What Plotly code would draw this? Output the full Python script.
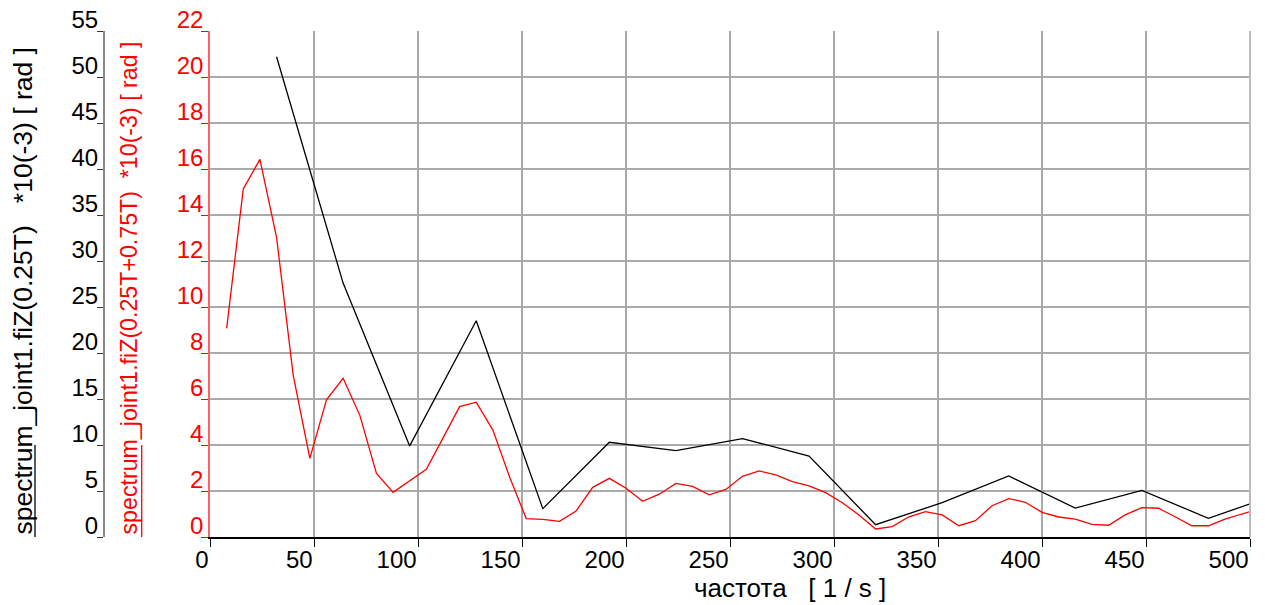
import plotly.graph_objects as go

# ---- data ----
black_x = [32, 64, 96, 128, 160, 192, 224, 256, 288, 320, 352, 384, 416, 448, 480, 500]
black_y = [52.2, 27.6, 9.9, 23.5, 3.08, 10.3, 9.38, 10.7, 8.8, 1.34, 3.73, 6.63, 3.15, 5.07, 2.03, 3.6]

red_x = list(range(8, 505, 8))
red_y = [9.07, 15.13, 16.42, 13.03, 7.04, 3.42, 5.96, 6.9, 5.3, 2.77,
         1.94, 2.45, 2.94, 4.3, 5.67, 5.86, 4.65, 2.62, 0.8, 0.77,
         0.68, 1.13, 2.16, 2.55, 2.12, 1.55, 1.86, 2.33, 2.2, 1.83,
         2.07, 2.64, 2.87, 2.7, 2.41, 2.22, 1.93, 1.49, 0.96, 0.35,
         0.45, 0.88, 1.1, 0.96, 0.49, 0.71, 1.36, 1.67, 1.51, 1.07,
         0.87, 0.78, 0.55, 0.51, 0.96, 1.28, 1.25, 0.88, 0.49, 0.49,
         0.78, 1.0, 1.2]

x_ticks = [0, 50, 100, 150, 200, 250, 300, 350, 400, 450, 500]
red_ticks = [0, 2, 4, 6, 8, 10, 12, 14, 16, 18, 20, 22]
black_ticks = [0, 5, 10, 15, 20, 25, 30, 35, 40, 45, 50, 55]

black_title = "spectrum_joint1.fiZ(0.25T)   *10(-3) [ rad ]"
red_title = "spectrum_joint1.fiZ(0.25T+0.75T)  *10(-3) [ rad ]"
x_title = "частота   [ 1 / s ]"

FONT = "Liberation Sans, Arial, sans-serif"
TICK = 24
OFF = 8  # page body margin: screen pixel = figure pixel + OFF
W, H = 1257, 597
# targets in screen pixels
S_BLACK_AXIS, S_RED_AXIS, S_RIGHT, S_TOP, S_BOTTOM = 104, 210, 1250, 31, 537
L = S_BLACK_AXIS - OFF
R = W - (S_RIGHT - OFF)
T = S_TOP - OFF
B = H - (S_BOTTOM - OFF)
PW = W - L - R
PH = H - T - B


def px(sx):
    return (sx - OFF - L) / PW


def py(sy):
    return (H - B - (sy - OFF)) / PH


fig = go.Figure()
fig.add_trace(go.Scatter(x=red_x, y=red_y, mode="lines",
                         line=dict(color="#ff0000", width=1.3),
                         xaxis="x", yaxis="y", showlegend=False))
fig.add_trace(go.Scatter(x=black_x, y=black_y, mode="lines",
                         line=dict(color="#000000", width=1.3),
                         xaxis="x", yaxis="y2", showlegend=False))

fig.update_layout(
    width=W, height=H,
    margin=dict(l=L, r=R, t=T, b=B, pad=0, autoexpand=False),
    paper_bgcolor="white", plot_bgcolor="white",
    font=dict(family=FONT, size=TICK, color="black"),
    showlegend=False,
    xaxis=dict(
        domain=[px(S_RED_AXIS), 1.0], range=[0, 500], automargin=False,
        tickvals=x_ticks, ticktext=[str(v) for v in x_ticks],
        ticks="outside", ticklen=8, tickwidth=1.2, tickcolor="black",
        ticklabelposition="outside left", ticklabeloverflow="allow",
        showline=True, linecolor="black", linewidth=1.5,
        showgrid=True, gridcolor="#aaaaaa", gridwidth=1.5,
        zeroline=False, mirror=False,
        tickfont=dict(size=TICK, color="black"),
    ),
    yaxis=dict(
        anchor="x", range=[0, 22], automargin=False,
        tickvals=red_ticks, ticktext=[str(v) for v in red_ticks],
        ticks="outside", ticklen=7, tickwidth=1.2, tickcolor="#ff0000",
        ticklabelposition="outside top", ticklabeloverflow="allow",
        ticklabelshift=6,
        showline=True, linecolor="#ff6060", linewidth=1.5,
        showgrid=True, gridcolor="#aaaaaa", gridwidth=1.5,
        zeroline=False,
        tickfont=dict(size=TICK, color="#ff0000"),
    ),
    yaxis2=dict(
        overlaying="y", anchor="free", position=0, side="left",
        range=[0, 55], automargin=False,
        tickvals=black_ticks, ticktext=[str(v) for v in black_ticks],
        ticks="outside", ticklen=6, tickwidth=1.2, tickcolor="#333333",
        ticklabelposition="outside top", ticklabeloverflow="allow",
        ticklabelshift=6,
        showline=True, linecolor="#888888", linewidth=2,
        showgrid=False, zeroline=False,
        tickfont=dict(size=TICK, color="black"),
    ),
)

# right border in grid colour
fig.add_shape(type="line", xref="paper", yref="paper",
              x0=1, x1=1, y0=0, y1=1, line=dict(color="#bbbbbb", width=2))

# axis titles
fig.add_annotation(text=black_title, xref="paper", yref="paper",
                   x=px(22), y=0, xanchor="center", yanchor="bottom",
                   textangle=-90, showarrow=False,
                   font=dict(family=FONT, size=26.5, color="black"))
fig.add_annotation(text=red_title, xref="paper", yref="paper",
                   x=px(128), y=0, xanchor="center", yanchor="bottom",
                   textangle=-90, showarrow=False,
                   font=dict(family=FONT, size=23.2, color="#ff0000"))
fig.add_annotation(text=x_title, xref="paper", yref="paper",
                   x=px(790), y=py(588), xanchor="center", yanchor="middle",
                   showarrow=False,
                   font=dict(family=FONT, size=26, color="black"))

# line-sample underlines next to the titles
fig.add_shape(type="line", xref="paper", yref="paper",
              x0=px(35), x1=px(35), y0=0, y1=py(445),
              line=dict(color="black", width=1.3))
fig.add_shape(type="line", xref="paper", yref="paper",
              x0=px(141.7), x1=px(141.7), y0=0, y1=py(445),
              line=dict(color="#ff0000", width=1.3))

fig.write_html("out.html")
